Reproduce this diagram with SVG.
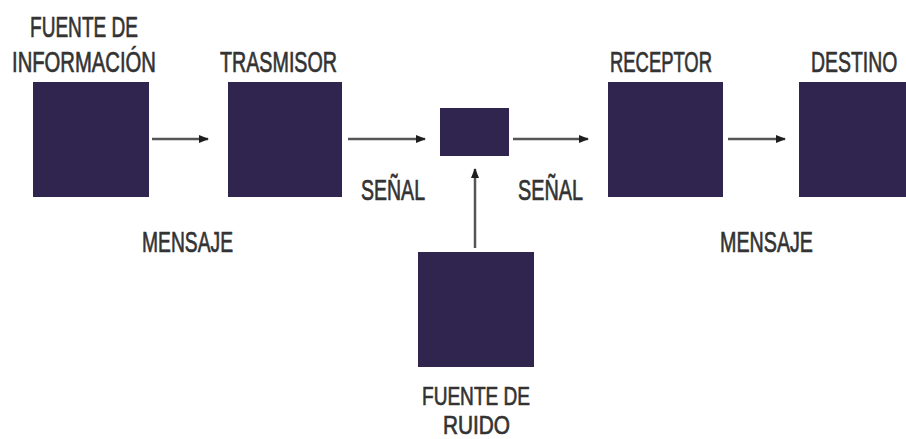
<svg xmlns="http://www.w3.org/2000/svg" width="906" height="439" viewBox="0 0 906 439">
<style>
.box{fill:#30254f}
.lbl{font-family:"Liberation Sans",Arial,sans-serif;font-size:29px;fill:#333333;stroke:#333333;stroke-width:0.7}
.sm{font-size:26px}
.conn{stroke:#555;stroke-width:2.5;fill:none;marker-end:url(#ah)}
</style>
<defs>
<marker id="ah" markerWidth="10" markerHeight="8" refX="9" refY="4" orient="auto" markerUnits="userSpaceOnUse">
<path d="M0,0 L10,4 L0,8 Z" fill="#1e1e1e"/>
</marker>
</defs>
<rect width="906" height="439" fill="#ffffff"/>
<g id="fuente-informacion">
<rect class="box" x="33" y="82" width="116" height="115"/>
<text class="lbl" x="30" y="37" textLength="108" lengthAdjust="spacingAndGlyphs">FUENTE DE</text>
<text class="lbl" x="12" y="72" textLength="144" lengthAdjust="spacingAndGlyphs">INFORMACIÓN</text>
</g>
<g id="trasmisor">
<rect class="box" x="228" y="82" width="114" height="115"/>
<text class="lbl" x="220" y="72" textLength="117" lengthAdjust="spacingAndGlyphs">TRASMISOR</text>
</g>
<g id="canal">
<rect class="box" x="440" y="108" width="69" height="48"/>
</g>
<g id="receptor">
<rect class="box" x="608" y="82" width="115" height="115"/>
<text class="lbl" x="610" y="72" textLength="102" lengthAdjust="spacingAndGlyphs">RECEPTOR</text>
</g>
<g id="destino">
<rect class="box" x="799" y="82" width="115" height="115"/>
<text class="lbl" transform="translate(811,72) scale(0.67,1)" x="0" y="0">DESTINO</text>
</g>
<g id="fuente-ruido">
<rect class="box" x="418" y="252" width="116" height="115"/>
<text class="lbl sm" x="422" y="405" textLength="108" lengthAdjust="spacingAndGlyphs">FUENTE DE</text>
<text class="lbl sm" x="443" y="434" textLength="67" lengthAdjust="spacingAndGlyphs">RUIDO</text>
</g>
<g id="connectors">
<line class="conn" x1="152" y1="139" x2="208" y2="139"/>
<line class="conn" x1="348" y1="139" x2="425" y2="139"/>
<line class="conn" x1="513" y1="139" x2="588" y2="139"/>
<line class="conn" x1="728" y1="139" x2="785" y2="139"/>
<line class="conn" x1="475" y1="248" x2="475" y2="169"/>
</g>
<g id="labels">
<text class="lbl" x="142" y="252" textLength="91" lengthAdjust="spacingAndGlyphs">MENSAJE</text>
<text class="lbl" x="361" y="200" textLength="64" lengthAdjust="spacingAndGlyphs">SEÑAL</text>
<text class="lbl" x="518" y="200" textLength="65" lengthAdjust="spacingAndGlyphs">SEÑAL</text>
<text class="lbl" x="720" y="252" textLength="93" lengthAdjust="spacingAndGlyphs">MENSAJE</text>
</g>
</svg>
